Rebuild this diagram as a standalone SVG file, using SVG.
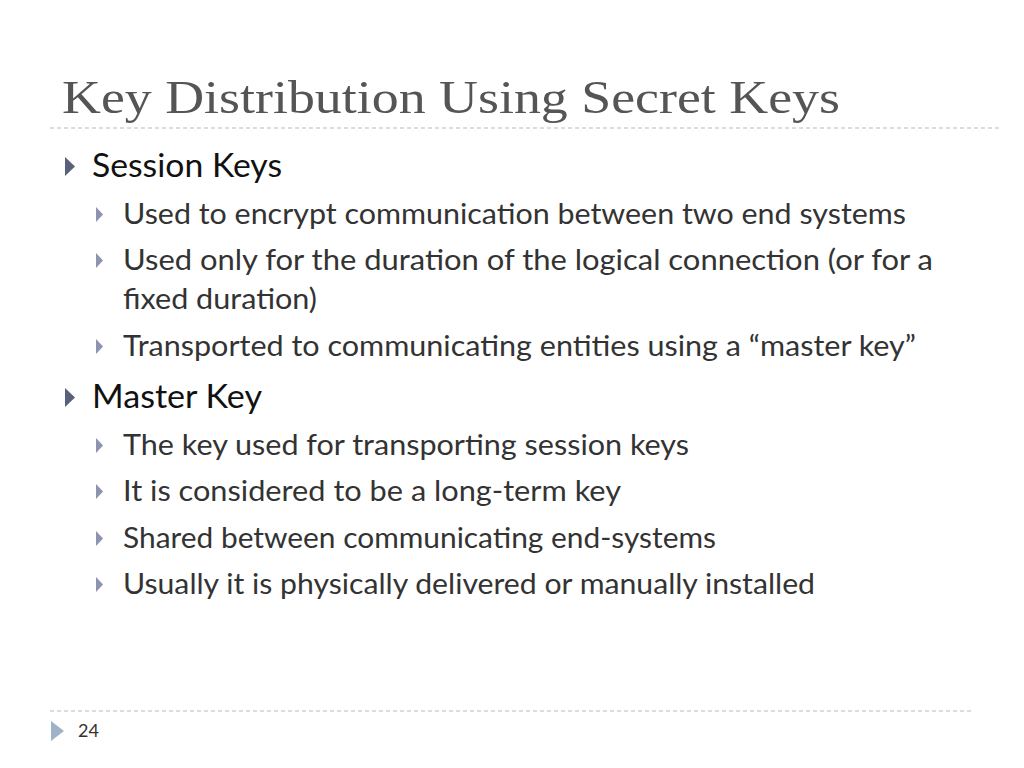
<svg xmlns="http://www.w3.org/2000/svg" width="1024" height="768" viewBox="0 0 1024 768">
<style>
.t{font-family:"Liberation Serif",serif;font-size:46px;fill:#555}
.l1{font-family:Lato,"Open Sans",sans-serif;font-size:32px;fill:#111}
.l2{font-family:Lato,"Open Sans",sans-serif;font-size:28px;fill:#333}
.b1{fill:#5a5f7a}
.b2{fill:#8d94b0}
.rule{stroke:#bbb;stroke-width:1;stroke-dasharray:4 3}
</style>
<rect width="1024" height="768" fill="#fff"/>
<text class="t" x="62" y="113" textLength="778" lengthAdjust="spacingAndGlyphs">Key Distribution Using Secret Keys</text>
<line class="rule" x1="50" y1="128" x2="1000" y2="128"/>
<polygon class="b1" points="65,157 65,176 75,166.5"/>
<text class="l1" x="92" y="177" textLength="190" lengthAdjust="spacingAndGlyphs">Session Keys</text>
<polygon class="b2" points="96,207 96,222 103,214.5"/>
<text class="l2" x="123" y="224" textLength="783" lengthAdjust="spacingAndGlyphs">Used to encrypt communication between two end systems</text>
<polygon class="b2" points="96,253 96,268 103,260.5"/>
<text class="l2" x="123" y="270" textLength="810" lengthAdjust="spacingAndGlyphs">Used only for the duration of the logical connection (or for a</text>
<text class="l2" x="123" y="309" textLength="194" lengthAdjust="spacingAndGlyphs">fixed duration)</text>
<polygon class="b2" points="96,339 96,354 103,346.5"/>
<text class="l2" x="123" y="356" textLength="793" lengthAdjust="spacingAndGlyphs">Transported to communicating entities using a “master key”</text>
<polygon class="b1" points="65,388 65,407 75,397.5"/>
<text class="l1" x="92" y="408" textLength="170" lengthAdjust="spacingAndGlyphs">Master Key</text>
<polygon class="b2" points="96,438 96,453 103,445.5"/>
<text class="l2" x="123" y="455" textLength="566" lengthAdjust="spacingAndGlyphs">The key used for transporting session keys</text>
<polygon class="b2" points="96,484 96,499 103,491.5"/>
<text class="l2" x="123" y="501" textLength="498" lengthAdjust="spacingAndGlyphs">It is considered to be a long-term key</text>
<polygon class="b2" points="96,531 96,546 103,538.5"/>
<text class="l2" x="123" y="548" textLength="593" lengthAdjust="spacingAndGlyphs">Shared between communicating end-systems</text>
<polygon class="b2" points="96,577 96,592 103,584.5"/>
<text class="l2" x="123" y="594" textLength="692" lengthAdjust="spacingAndGlyphs">Usually it is physically delivered or manually installed</text>
<line class="rule" x1="50" y1="711" x2="972" y2="711"/>
<polygon fill="#9fb3c8" points="51,721 51,741 64,731"/>
<text x="78" y="737" font-family="Lato,'Open Sans',sans-serif" font-size="18" fill="#333">24</text>
</svg>
